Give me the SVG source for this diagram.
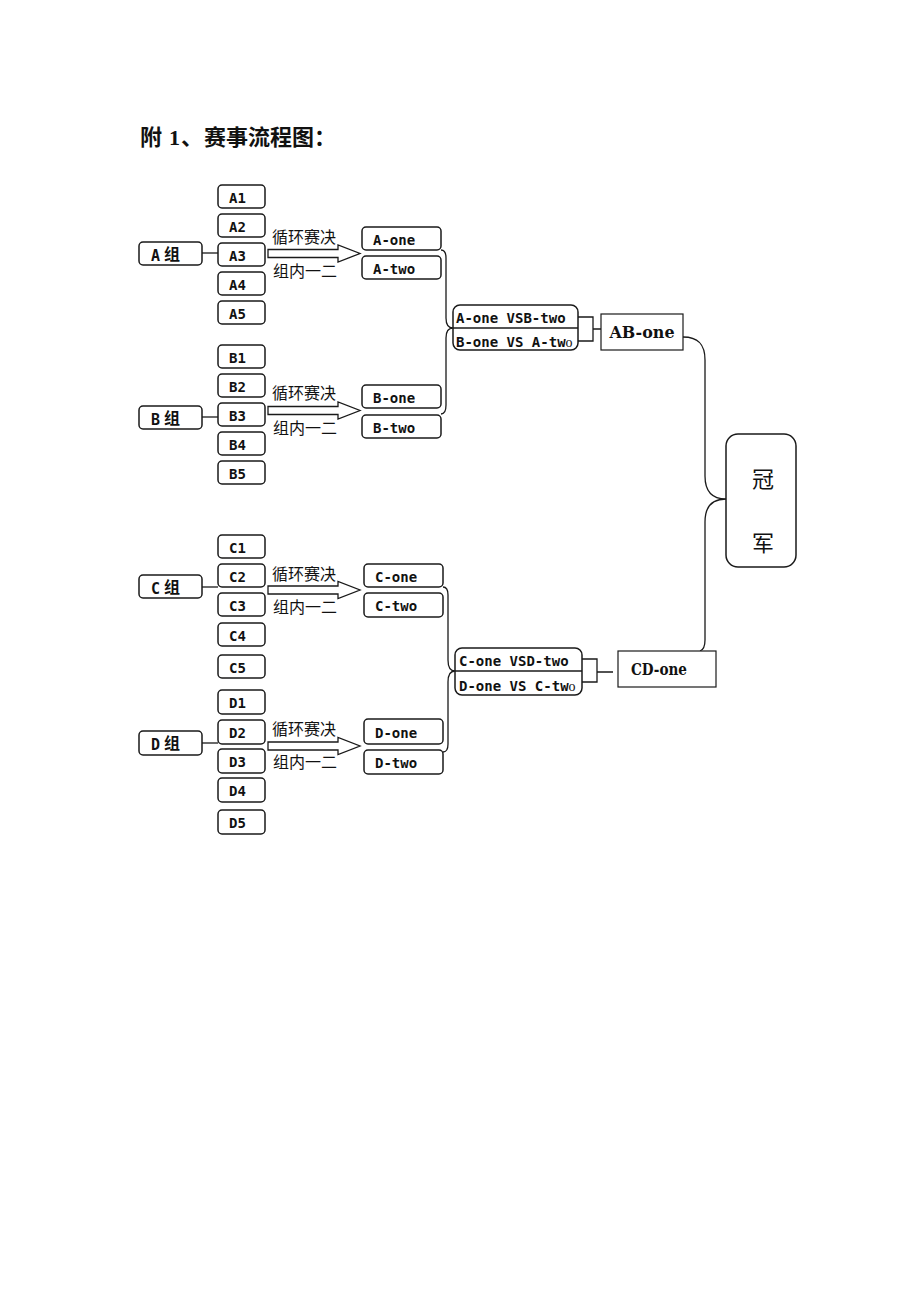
<svg xmlns="http://www.w3.org/2000/svg" width="920" height="1302" viewBox="0 0 920 1302">
<style>
.bg{fill:#ffffff}
.b{fill:#fff;stroke:#1a1a1a;stroke-width:1.5}
.sq{fill:#fff;stroke:#1a1a1a;stroke-width:1.2}
.ln{fill:none;stroke:#1a1a1a;stroke-width:1.3}
.t{font-family:"DejaVu Sans Mono","Noto Sans CJK SC",monospace;font-size:14px;font-weight:bold;fill:#111}
.cn{font-family:"Noto Sans CJK SC",sans-serif;font-size:16px;fill:#111}
.g{font-family:"DejaVu Sans Mono","Noto Sans CJK SC",monospace;font-size:15px;font-weight:bold;fill:#111}
.gc{font-family:"Noto Sans CJK SC",sans-serif;font-size:16px;font-weight:bold;fill:#111}
.s{font-family:"DejaVu Serif","Liberation Serif",serif;font-size:16px;font-weight:bold;fill:#111;text-anchor:middle}
.big{font-family:"Noto Sans CJK SC",sans-serif;font-size:22px;fill:#111;text-anchor:middle}
.title{font-family:"Liberation Serif","Noto Sans CJK SC",serif;font-size:22px;font-weight:bold;fill:#111}
.arr{fill:#fff;stroke:#1a1a1a;stroke-width:1.3}
</style>
<defs>
<path id="arrow" class="arr" d="M268,-4 L338,-4 L338,-8.5 L360,0 L338,8.5 L338,4 L268,4 Z"/>
</defs>
<rect class="bg" x="0" y="0" width="920" height="1302"/>
<text class="title" y="145"><tspan x="140">附</tspan><tspan x="169">1</tspan><tspan x="181">、</tspan><tspan x="204">赛事流程图</tspan><tspan x="314">：</tspan></text>

<g id="connectors">
<line class="ln" x1="202" y1="253" x2="218" y2="253"/>
<line class="ln" x1="202" y1="417" x2="218" y2="417"/>
<line class="ln" x1="202" y1="587" x2="218" y2="587"/>
<line class="ln" x1="202" y1="743" x2="218" y2="743"/>
<use href="#arrow" transform="translate(0,253.5)"/>
<use href="#arrow" transform="translate(0,410.5)"/>
<use href="#arrow" transform="translate(0,590)"/>
<use href="#arrow" transform="translate(0,746)"/>
<path class="ln" d="M441,250 Q446,250 446,258 L446,318 Q446,328 453,328 Q446,328 446,338 L446,405 Q446,414 441,414"/>
<path class="ln" d="M443,587 Q448,587 448,595 L448,660 Q448,671 455,671 Q448,671 448,682 L448,744 Q448,752 443,752"/>
<path class="ln" d="M578,317 L593,317 L593,341 L578,341 M593,329 L601,329"/>
<path class="ln" d="M582,659 L597,659 L597,682 L582,682 M597,672 L613,672"/>
<path class="ln" d="M683,337 C699,337 705,345 705,360 L705,476 C705,492 712,499 726,499 C712,499 705,506 705,522 L705,640 C705,647 703,650 700,651"/>
</g>

<g id="groupA">
<rect class="b" x="139" y="242" width="63" height="23" rx="4"/>
<text class="g" x="151" y="261">A</text><text class="gc" x="164" y="260">组</text>
</g>
<g id="A1"><rect class="b" x="218" y="185" width="47" height="23" rx="4"/><text class="t" x="229" y="203">A1</text></g>
<g id="A2"><rect class="b" x="218" y="214" width="47" height="23" rx="4"/><text class="t" x="229" y="232">A2</text></g>
<g id="A3"><rect class="b" x="218" y="243" width="47" height="23" rx="4"/><text class="t" x="229" y="261">A3</text></g>
<g id="A4"><rect class="b" x="218" y="272" width="47" height="23" rx="4"/><text class="t" x="229" y="290">A4</text></g>
<g id="A5"><rect class="b" x="218" y="301" width="47" height="23" rx="4"/><text class="t" x="229" y="319">A5</text></g>
<g id="labelA"><text class="cn" x="272" y="243">循环赛决</text><text class="cn" x="273" y="277">组内一二</text></g>
<g id="Aone"><rect class="b" x="362" y="227" width="79" height="23" rx="4"/><text class="t" x="373" y="245">A-one</text></g>
<g id="Atwo"><rect class="b" x="362" y="256" width="79" height="23" rx="4"/><text class="t" x="373" y="274">A-two</text></g>

<g id="groupB">
<rect class="b" x="139" y="406" width="63" height="23" rx="4"/>
<text class="g" x="151" y="425">B</text><text class="gc" x="164" y="424">组</text>
</g>
<g id="B1"><rect class="b" x="218" y="345" width="47" height="23" rx="4"/><text class="t" x="229" y="363">B1</text></g>
<g id="B2"><rect class="b" x="218" y="374" width="47" height="23" rx="4"/><text class="t" x="229" y="392">B2</text></g>
<g id="B3"><rect class="b" x="218" y="403" width="47" height="23" rx="4"/><text class="t" x="229" y="421">B3</text></g>
<g id="B4"><rect class="b" x="218" y="432" width="47" height="23" rx="4"/><text class="t" x="229" y="450">B4</text></g>
<g id="B5"><rect class="b" x="218" y="461" width="47" height="23" rx="4"/><text class="t" x="229" y="479">B5</text></g>
<g id="labelB"><text class="cn" x="272" y="399">循环赛决</text><text class="cn" x="273" y="434">组内一二</text></g>
<g id="Bone"><rect class="b" x="362" y="385" width="79" height="23" rx="4"/><text class="t" x="373" y="403">B-one</text></g>
<g id="Btwo"><rect class="b" x="362" y="415" width="79" height="23" rx="4"/><text class="t" x="373" y="433">B-two</text></g>

<g id="groupC">
<rect class="b" x="139" y="575" width="63" height="23" rx="4"/>
<text class="g" x="151" y="594">C</text><text class="gc" x="164" y="593">组</text>
</g>
<g id="C1"><rect class="b" x="218" y="535" width="47" height="23" rx="4"/><text class="t" x="229" y="553">C1</text></g>
<g id="C2"><rect class="b" x="218" y="564" width="47" height="23" rx="4"/><text class="t" x="229" y="582">C2</text></g>
<g id="C3"><rect class="b" x="218" y="593" width="47" height="23" rx="4"/><text class="t" x="229" y="611">C3</text></g>
<g id="C4"><rect class="b" x="218" y="623" width="47" height="23" rx="4"/><text class="t" x="229" y="641">C4</text></g>
<g id="C5"><rect class="b" x="218" y="655" width="47" height="23" rx="4"/><text class="t" x="229" y="673">C5</text></g>
<g id="labelC"><text class="cn" x="272" y="580">循环赛决</text><text class="cn" x="273" y="613">组内一二</text></g>
<g id="Cone"><rect class="b" x="364" y="564" width="79" height="23" rx="4"/><text class="t" x="375" y="582">C-one</text></g>
<g id="Ctwo"><rect class="b" x="364" y="593" width="79" height="24" rx="4"/><text class="t" x="375" y="611">C-two</text></g>

<g id="groupD">
<rect class="b" x="139" y="731" width="63" height="24" rx="4"/>
<text class="g" x="151" y="750">D</text><text class="gc" x="164" y="749">组</text>
</g>
<g id="D1"><rect class="b" x="218" y="690" width="47" height="24" rx="4"/><text class="t" x="229" y="708">D1</text></g>
<g id="D2"><rect class="b" x="218" y="720" width="47" height="24" rx="4"/><text class="t" x="229" y="738">D2</text></g>
<g id="D3"><rect class="b" x="218" y="749" width="47" height="24" rx="4"/><text class="t" x="229" y="767">D3</text></g>
<g id="D4"><rect class="b" x="218" y="778" width="47" height="24" rx="4"/><text class="t" x="229" y="796">D4</text></g>
<g id="D5"><rect class="b" x="218" y="810" width="47" height="24" rx="4"/><text class="t" x="229" y="828">D5</text></g>
<g id="labelD"><text class="cn" x="272" y="735">循环赛决</text><text class="cn" x="273" y="768">组内一二</text></g>
<g id="Done"><rect class="b" x="364" y="719" width="79" height="25" rx="4"/><text class="t" x="375" y="738">D-one</text></g>
<g id="Dtwo"><rect class="b" x="364" y="750" width="79" height="24" rx="4"/><text class="t" x="375" y="768">D-two</text></g>

<g id="ABvs">
<rect class="b" x="453" y="305" width="125" height="45" rx="7"/>
<line class="ln" x1="453" y1="328" x2="578" y2="328"/>
<text class="t" x="456" y="323">A-one VSB-two</text>
<text class="t" x="456" y="347">B-one VS A-tw<tspan style="font-weight:normal;font-family:'Liberation Serif',serif;font-size:14px">o</tspan></text>
</g>
<g id="ABone"><rect class="sq" x="601" y="314" width="82" height="36"/><text class="s" x="642" y="338" textLength="65" lengthAdjust="spacingAndGlyphs">AB-one</text></g>

<g id="CDvs">
<rect class="b" x="455" y="648" width="127" height="47" rx="7"/>
<line class="ln" x1="455" y1="671" x2="582" y2="671"/>
<text class="t" x="459" y="666">C-one VSD-two</text>
<text class="t" x="459" y="691">D-one VS C-tw<tspan style="font-weight:normal;font-family:'Liberation Serif',serif;font-size:14px">o</tspan></text>
</g>
<g id="CDone"><rect class="sq" x="618" y="651" width="98" height="36"/><text class="s" x="659" y="675" textLength="56" lengthAdjust="spacingAndGlyphs">CD-one</text></g>

<g id="champion">
<rect class="b" x="726" y="434" width="70" height="133" rx="12"/>
<text class="big" x="763" y="487">冠</text>
<text class="big" x="763" y="551">军</text>
</g>
</svg>
